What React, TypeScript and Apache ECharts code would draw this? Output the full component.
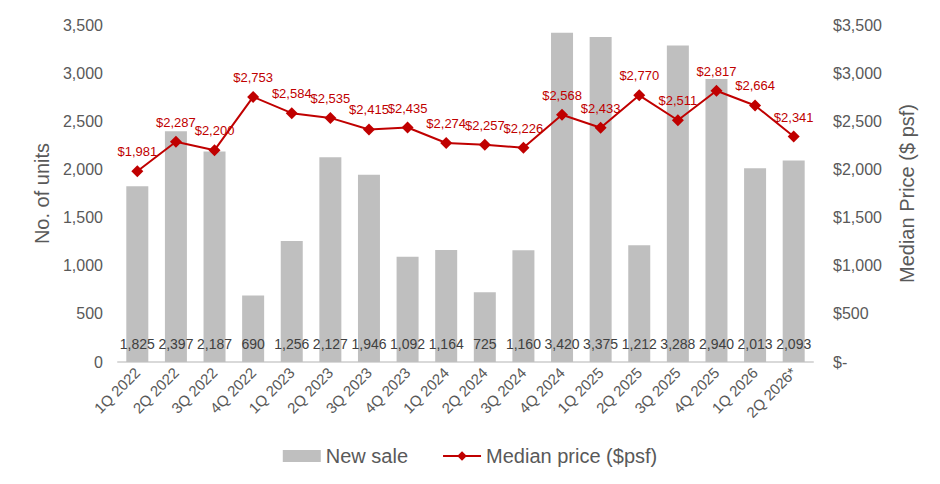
import React, { useEffect, useRef } from "react";
import * as echarts from "echarts";

const categories = [
  "1Q 2022", "2Q 2022", "3Q 2022", "4Q 2022",
  "1Q 2023", "2Q 2023", "3Q 2023", "4Q 2023",
  "1Q 2024", "2Q 2024", "3Q 2024", "4Q 2024",
  "1Q 2025", "2Q 2025", "3Q 2025", "4Q 2025",
  "1Q 2026", "2Q 2026*",
];
const newSale = [1825, 2397, 2187, 690, 1256, 2127, 1946, 1092, 1164, 725, 1160, 3420, 3375, 1212, 3288, 2940, 2013, 2093];
const medianPrice = [1981, 2287, 2200, 2753, 2584, 2535, 2415, 2435, 2274, 2257, 2226, 2568, 2433, 2770, 2511, 2817, 2664, 2341];

const FONT = 'Arial, "Liberation Sans", sans-serif';
const GREY_TEXT = "#595959";
const RED = "#c00000";

const fmt = (v: number) => v.toLocaleString("en-US");

export default function App() {
  const ref = useRef<HTMLDivElement>(null);
  useEffect(() => {
    document.body.style.margin = "0";
    if (!ref.current) return;
    const chart = echarts.init(ref.current, undefined, { renderer: "svg" });
    chart.setOption({
      animation: false,
      textStyle: { fontFamily: FONT },
      grid: { left: 118, right: 127, top: 25, bottom: 122, containLabel: false },
      legend: {
        top: 441,
        left: "center",
        itemWidth: 38,
        itemHeight: 12,
        itemGap: 34,
        textStyle: { fontFamily: FONT, fontSize: 20, color: GREY_TEXT },
        data: [
          { name: "New sale", icon: "rect" },
          { name: "Median price ($psf)" },
        ],
      },
      xAxis: {
        type: "category",
        data: categories,
        axisLine: { lineStyle: { color: "#d9d9d9", width: 2 } },
        axisTick: { show: false },
        axisLabel: {
          interval: 0,
          rotate: 45,
          fontSize: 15,
          color: GREY_TEXT,
          fontFamily: FONT,
          margin: 8,
        },
      },
      yAxis: [
        {
          type: "value",
          min: 0,
          max: 3500,
          interval: 500,
          name: "No. of units",
          nameLocation: "middle",
          nameGap: 61,
          nameTextStyle: { fontSize: 20, color: GREY_TEXT, fontFamily: FONT },
          splitLine: { show: false },
          axisLine: { show: false },
          axisTick: { show: false },
          axisLabel: {
            fontSize: 16,
            color: GREY_TEXT,
            fontFamily: FONT,
            margin: 15,
            formatter: (v: number) => fmt(v),
          },
        },
        {
          type: "value",
          min: 0,
          max: 3500,
          interval: 500,
          name: "Median Price ($ psf)",
          nameLocation: "middle",
          nameGap: 84,
          nameTextStyle: { fontSize: 20, color: GREY_TEXT, fontFamily: FONT },
          splitLine: { show: false },
          axisLine: { show: false },
          axisTick: { show: false },
          axisLabel: {
            fontSize: 16,
            color: GREY_TEXT,
            fontFamily: FONT,
            margin: 20,
            formatter: (v: number) => (v === 0 ? "$-" : "$" + fmt(v)),
          },
        },
      ],
      series: [
        {
          name: "New sale",
          type: "bar",
          data: newSale,
          barWidth: 22,
          itemStyle: { color: "#bfbfbf" },
          label: {
            show: true,
            position: "insideBottom",
            distance: 11,
            fontSize: 14,
            color: "#404040",
            fontFamily: FONT,
            formatter: (p: any) => fmt(p.value),
          },
        },
        {
          name: "Median price ($psf)",
          type: "line",
          yAxisIndex: 1,
          data: medianPrice,
          symbol: "diamond",
          symbolSize: 12,
          lineStyle: { color: RED, width: 2 },
          itemStyle: { color: RED },
          label: {
            show: true,
            position: "top",
            distance: 7,
            fontSize: 13,
            color: RED,
            fontFamily: FONT,
            formatter: (p: any) => "$" + fmt(p.value),
          },
        },
      ],
    });
    return () => chart.dispose();
  }, []);
  return <div ref={ref} style={{ width: 940, height: 484 }} />;
}
